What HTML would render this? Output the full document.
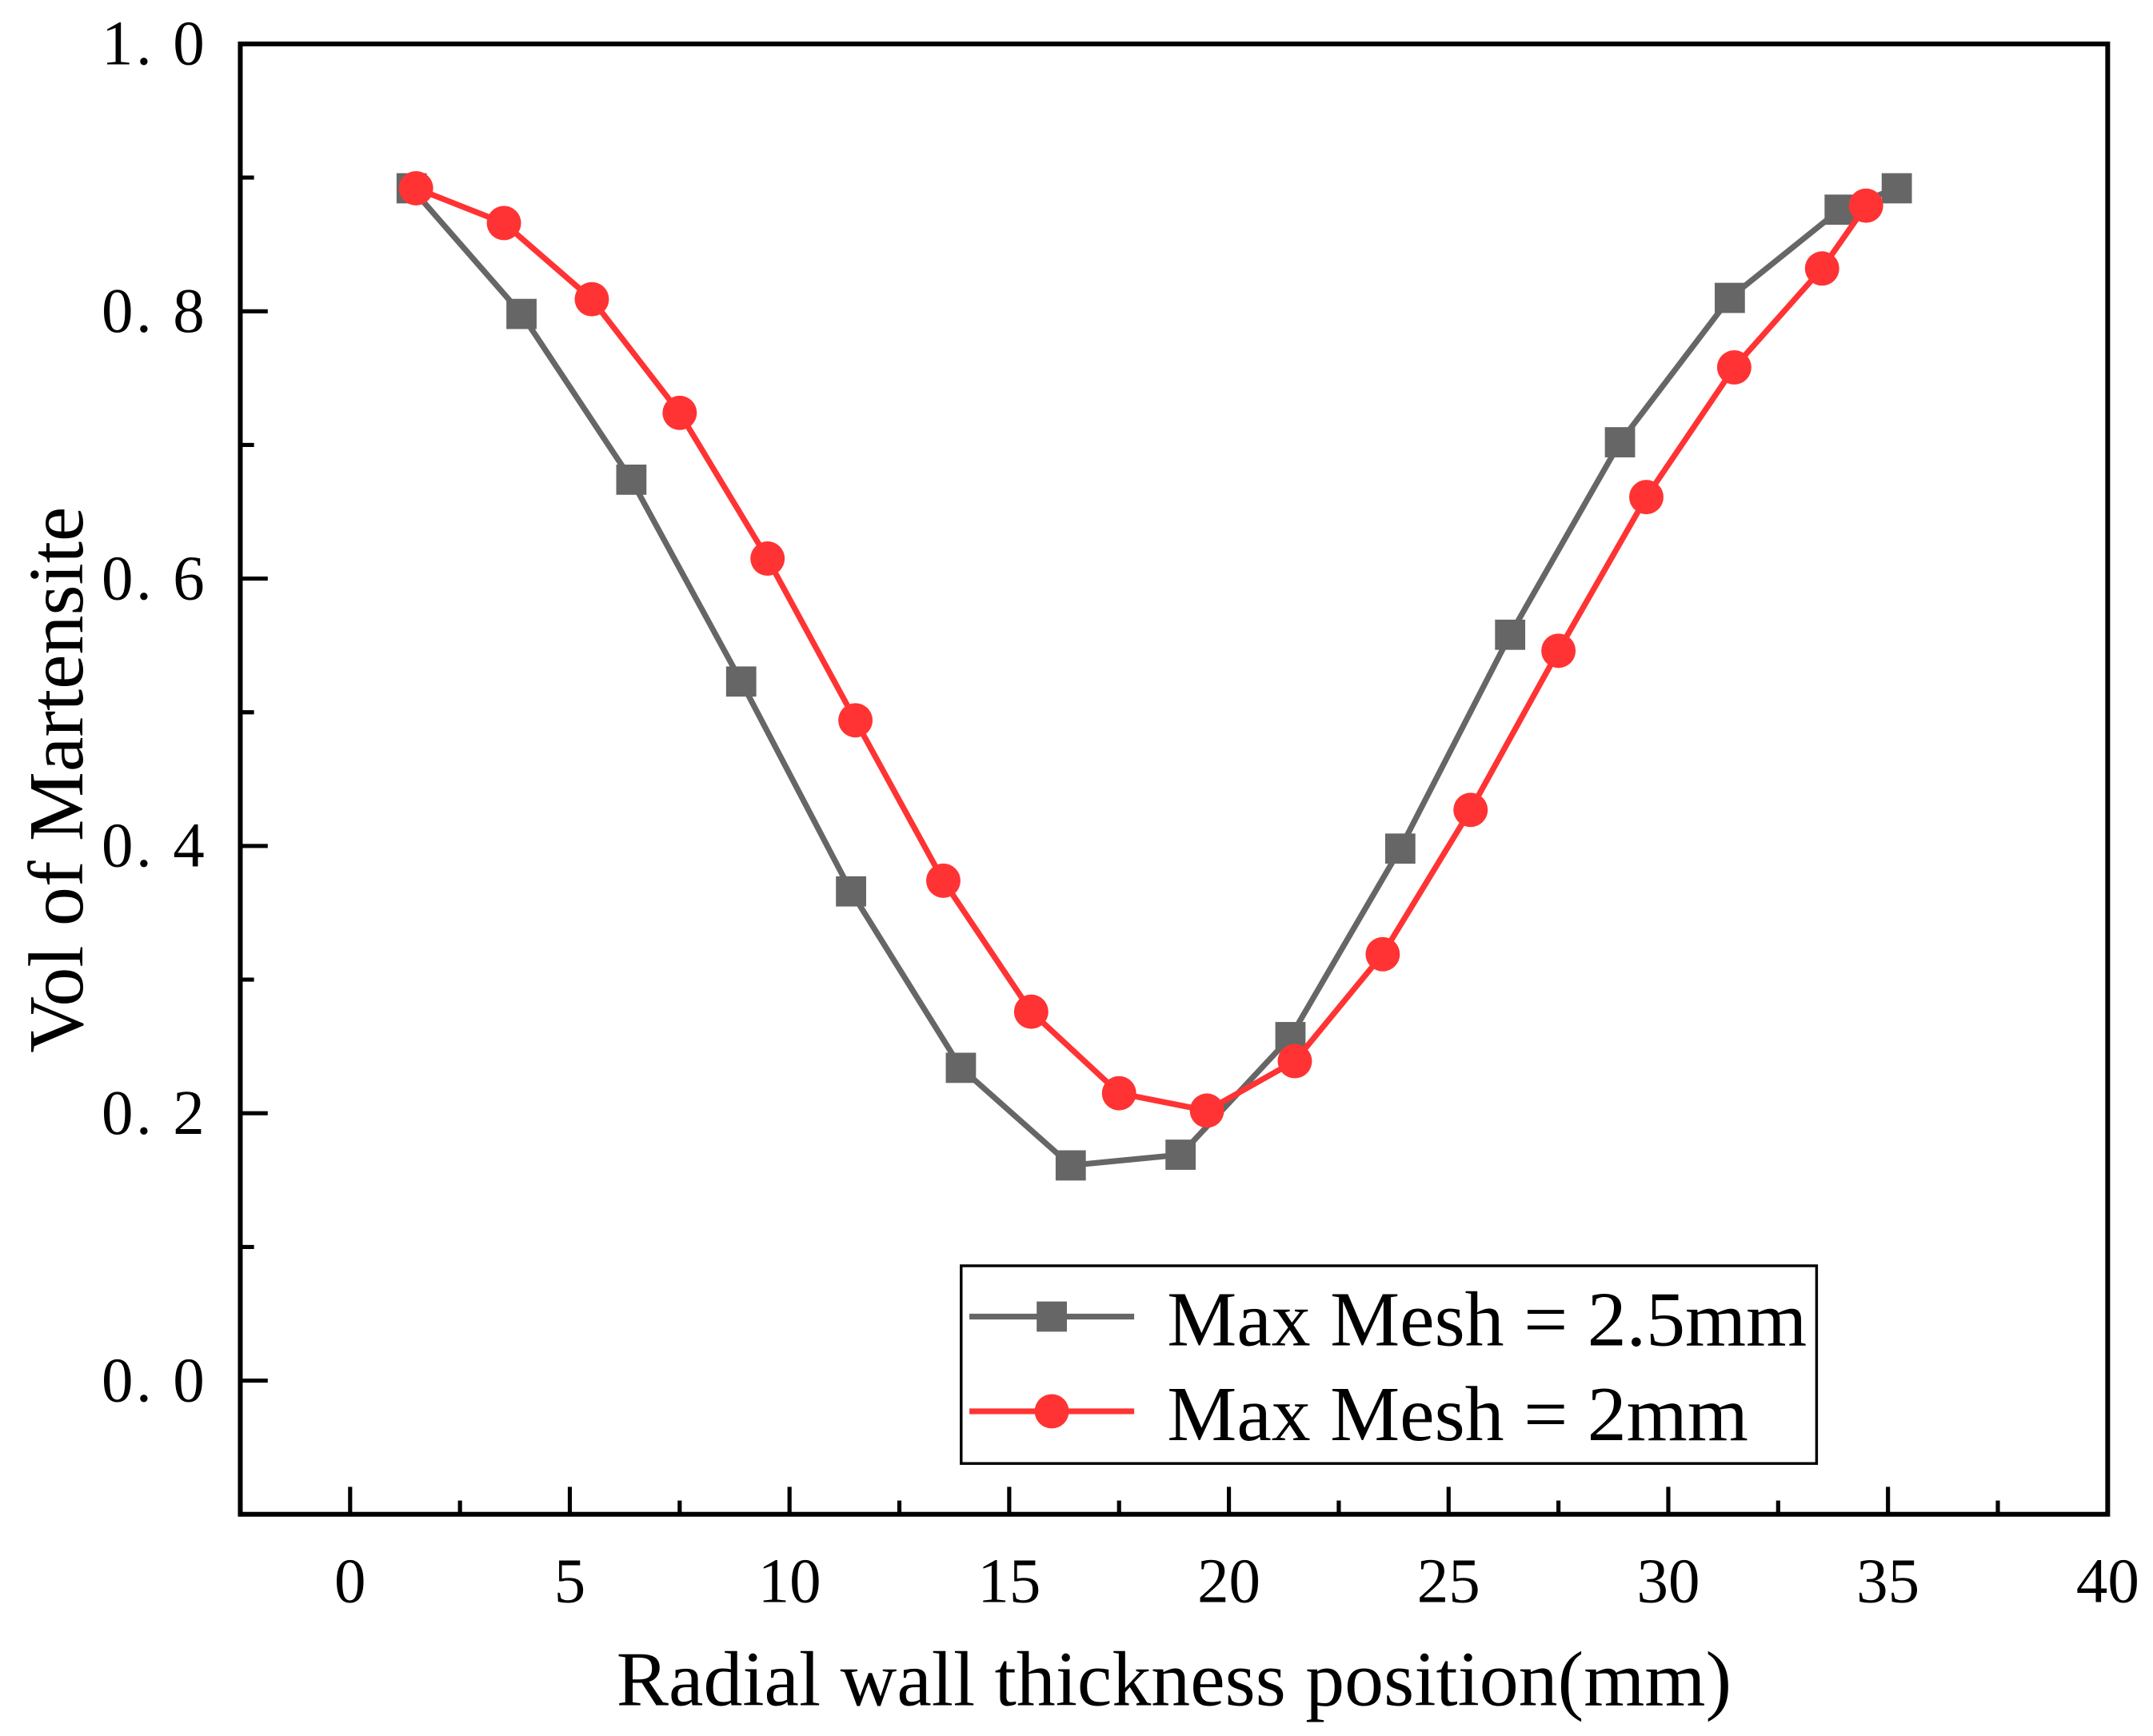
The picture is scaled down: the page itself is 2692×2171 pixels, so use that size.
<!DOCTYPE html>
<html><head><meta charset="utf-8"><style>
html,body{margin:0;padding:0;background:#fff;}
svg{display:block;}
text{font-family:"Liberation Serif","DejaVu Serif",serif;fill:#000;}
</style></head><body>
<svg id="chart" width="2692" height="2171" viewBox="0 0 1568 1264.5" preserveAspectRatio="none" xmlns="http://www.w3.org/2000/svg">
</svg>
<script>
const xTicks = [0,5,10,15,20,25,30,35,40];
const yTicks = [0.0,0.2,0.4,0.6,0.8,1.0];
const yTickLabels = ["0. 0","0. 2","0. 4","0. 6","0. 8","1. 0"];
const grayX = [1.4,3.9,6.4,8.9,11.4,13.9,16.4,18.9,21.4,23.9,26.4,28.9,31.4,33.9,35.2];
const grayY = [0.892,0.798,0.674,0.523,0.366,0.234,0.161,0.169,0.257,0.398,0.558,0.702,0.810,0.876,0.892];
const redX = [1.5,3.5,5.5,7.5,9.5,11.5,13.5,15.5,17.5,19.5,21.5,23.5,25.5,27.5,29.5,31.5,33.5,34.5];
const redY = [0.892,0.866,0.809,0.724,0.615,0.494,0.374,0.276,0.215,0.202,0.239,0.319,0.427,0.546,0.661,0.758,0.832,0.879];

const L=175,R=1535,T=32,B=1103;
const xMin=-2.5,xMax=40,yMin=-0.1,yMax=1.0;
const sx=v=>L+(v-xMin)/(xMax-xMin)*(R-L);
const sy=v=>B-(v-yMin)/(yMax-yMin)*(B-T);
const svg=document.getElementById('chart');
const NS='http://www.w3.org/2000/svg';
function mk(tag,attrs,parent){const e=document.createElementNS(NS,tag);for(const k in attrs)e.setAttribute(k,attrs[k]);(parent||svg).appendChild(e);return e;}

const frame=mk('rect',{x:L,y:T,width:R-L,height:B-T,fill:'none',stroke:'#000','stroke-width':3.5});



for(let v=0;v<=40;v+=2.5){
  const major=Number.isInteger(v/5);
  const t=mk('line',{x1:sx(v),x2:sx(v),y1:B,y2:B-(major?20:10),stroke:'#000','stroke-width':3});
  
  
}
xTicks.forEach(v=>{
  const t=mk('text',{x:sx(v),y:B+64,'text-anchor':'middle','font-size':46});
  t.textContent=v;
  
  
});
for(let i=0;i<=10;i++){
  const v=i/10;const major=i%2===0;
  const t=mk('line',{x1:L,x2:L+(major?20:10),y1:sy(v),y2:sy(v),stroke:'#000','stroke-width':3});
  
  
}
yTicks.forEach((v,i)=>{
  const t=mk('text',{x:L-24,y:sy(v)+15,'text-anchor':'end','font-size':46,'letter-spacing':2});
  t.textContent=yTickLabels[i];
  
  
});
const xt=mk('text',{x:855,y:1242,'text-anchor':'middle','font-size':57});
xt.textContent='Radial wall thickness position(mm)';


const yt=mk('text',{x:0,y:0,'text-anchor':'middle','font-size':57,transform:'translate(60,568) rotate(-90)'});
yt.textContent='Vol of Martensite';



function series(xs,ys,color,shape,name){
  const g=mk('g',{});
  
  
  const pts=xs.map((x,i)=>sx(x)+','+sy(ys[i])).join(' ');
  mk('polyline',{points:pts,fill:'none',stroke:color,'stroke-width':4.2},g);
  xs.forEach((x,i)=>{
    let m;
    if(shape==='square') m=mk('rect',{x:sx(x)-11,y:sy(ys[i])-11,width:22,height:22,fill:color},g);
    else m=mk('circle',{cx:sx(x),cy:sy(ys[i]),r:12.5,fill:color},g);
    
    
  });
}
series(grayX,grayY,'#666666','square','series-mesh-2-5mm');
series(redX,redY,'#ff3333','circle','series-mesh-2mm');

const lg=mk('g',{});


mk('rect',{x:700,y:922,width:623,height:144,fill:'#fff',stroke:'#000','stroke-width':2},lg);
const e1=mk('g',{},lg);


mk('line',{x1:706,x2:826,y1:959,y2:959,stroke:'#666666','stroke-width':4.2},e1);
mk('rect',{x:755,y:948,width:22,height:22,fill:'#666666'},e1);
const l1=mk('text',{x:850,y:980,'font-size':57},e1);l1.textContent='Max Mesh = 2.5mm';
const e2=mk('g',{},lg);


mk('line',{x1:706,x2:826,y1:1028,y2:1028,stroke:'#ff3333','stroke-width':4.2},e2);
mk('circle',{cx:766,cy:1028,r:12.5,fill:'#ff3333'},e2);
const l2=mk('text',{x:850,y:1049,'font-size':57},e2);l2.textContent='Max Mesh = 2mm';
</script>
</body></html>
